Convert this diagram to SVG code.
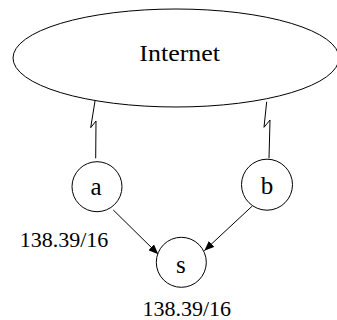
<svg xmlns="http://www.w3.org/2000/svg" width="337" height="320" viewBox="0 0 337 320">
<style>
.shape{fill:#fff;stroke:#000;stroke-width:1}
.lbl{font-family:"Liberation Serif","Times New Roman",serif;fill:#000;text-anchor:middle}
.addr{font-size:22px}
.node{font-size:25px}
.big{font-size:24px}
.edge{fill:none;stroke:#000;stroke-width:1}
</style>
<defs>
<marker id="arr" markerWidth="10" markerHeight="8" refX="10" refY="4" orient="auto" markerUnits="userSpaceOnUse">
<path d="M0,0 L10,4 L0,8 Z" fill="#000"/>
</marker>
</defs>
<rect width="337" height="320" fill="#fff"/>
<g id="connectors">
<polyline class="edge" points="95,101 90.7,127.7 96,121 95.7,158.3"/>
<polyline class="edge" points="266.7,101.7 264,127.3 270,120 269,158.3"/>
<line class="edge" x1="113.3" y1="210" x2="158.3" y2="254.3" marker-end="url(#arr)"/>
<line class="edge" x1="252.3" y1="206" x2="204.3" y2="250.7" marker-end="url(#arr)"/>
</g>
<g id="internet">
<ellipse class="shape" cx="176" cy="58" rx="163" ry="49"/>
<text class="lbl big" x="179.7" y="60.7" textLength="80.7" lengthAdjust="spacingAndGlyphs">Internet</text>
</g>
<g id="a">
<circle class="shape" cx="97" cy="186.7" r="25"/>
<text class="lbl node" x="96" y="194.5">a</text>
</g>
<g id="b">
<circle class="shape" cx="267" cy="184.7" r="25.5"/>
<text class="lbl node" x="267" y="193.5">b</text>
</g>
<g id="s">
<circle class="shape" cx="181.3" cy="262.3" r="25"/>
<text class="lbl node" x="180.8" y="273.3">s</text>
</g>
<g id="labels">
<text class="lbl addr" x="64" y="246.5">138.39/16</text>
<text class="lbl addr" x="186.7" y="315.5">138.39/16</text>
</g>
</svg>
